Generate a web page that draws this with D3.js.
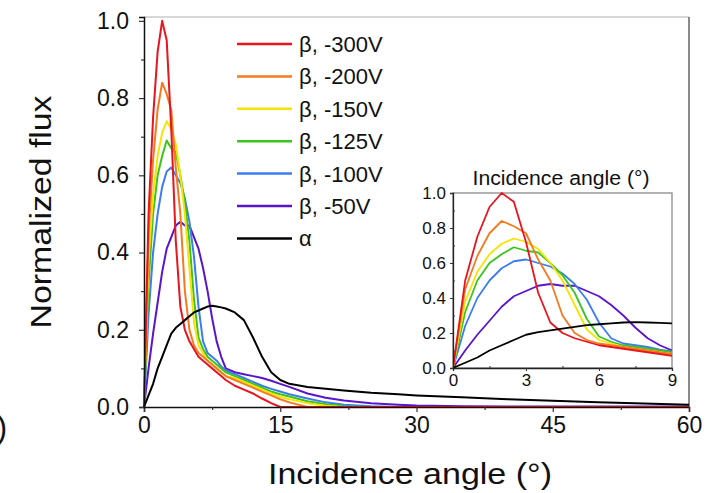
<!DOCTYPE html>
<html>
<head>
<meta charset="utf-8">
<script src="https://cdn.jsdelivr.net/npm/d3@7"></script>
<style>
  body { margin: 0; background: #fff; }
  svg { font-family: "Liberation Sans", Arial, sans-serif; }
</style>
</head>
<body>
<svg id="chart" width="725" height="493"></svg>
<script>
// angles in degrees, shared by every series
const angles = [0, 0.5, 1, 1.5, 2, 2.5, 3, 3.5, 4, 4.5, 5, 5.5, 6, 6.5, 7, 7.5, 8, 8.5, 9,
  10, 11, 12, 13, 14, 15, 16, 18, 20, 22, 25, 28, 30, 35, 40, 45, 50, 55, 60];

const beta300 = [0, 0.5, 0.75, 0.92, 1.0, 0.95, 0.72, 0.43, 0.26, 0.2, 0.17, 0.15, 0.13, 0.12, 0.11, 0.1, 0.09, 0.08, 0.07,
  0.055, 0.045, 0.035, 0.022, 0.01, 0, 0, 0, 0, 0, 0, 0, 0, 0, 0, 0, 0, 0, 0];
const beta200 = [0, 0.45, 0.64, 0.77, 0.84, 0.81, 0.77, 0.62, 0.5, 0.3, 0.2, 0.16, 0.14, 0.13, 0.12, 0.11, 0.1, 0.09, 0.08,
  0.07, 0.06, 0.05, 0.04, 0.03, 0.02, 0.012, 0, 0, 0, 0, 0, 0, 0, 0, 0, 0, 0, 0];
const beta150 = [0, 0.38, 0.55, 0.65, 0.71, 0.74, 0.72, 0.68, 0.6, 0.5, 0.36, 0.22, 0.16, 0.14, 0.12, 0.11, 0.1, 0.09, 0.08,
  0.075, 0.065, 0.055, 0.045, 0.035, 0.027, 0.02, 0.01, 0.003, 0, 0, 0, 0, 0, 0, 0, 0, 0, 0];
const beta125 = [0, 0.32, 0.5, 0.6, 0.65, 0.69, 0.67, 0.66, 0.6, 0.53, 0.43, 0.28, 0.18, 0.15, 0.13, 0.12, 0.11, 0.1, 0.09,
  0.08, 0.07, 0.06, 0.05, 0.04, 0.033, 0.027, 0.015, 0.007, 0.002, 0, 0, 0, 0, 0, 0, 0, 0, 0];
const beta100 = [0, 0.24, 0.4, 0.5, 0.57, 0.61, 0.62, 0.6, 0.58, 0.54, 0.48, 0.39, 0.26, 0.17, 0.14, 0.13, 0.12, 0.105, 0.095,
  0.085, 0.075, 0.065, 0.055, 0.047, 0.04, 0.033, 0.022, 0.012, 0.006, 0.002, 0, 0, 0, 0, 0, 0, 0, 0];
const beta50 = [0, 0.1, 0.19, 0.27, 0.35, 0.41, 0.44, 0.47, 0.48, 0.47, 0.47, 0.44, 0.41, 0.36, 0.3, 0.23, 0.17, 0.13, 0.1,
  0.09, 0.085, 0.08, 0.075, 0.068, 0.06, 0.052, 0.035, 0.024, 0.017, 0.01, 0.006, 0.004, 0.002, 0.001, 0.001, 0.001, 0.001, 0.001];
const alpha = [0, 0.03, 0.06, 0.1, 0.13, 0.16, 0.19, 0.205, 0.215, 0.225, 0.235, 0.245, 0.25, 0.255, 0.26, 0.262, 0.26, 0.258, 0.255,
  0.245, 0.225, 0.18, 0.13, 0.09, 0.07, 0.06, 0.052, 0.047, 0.043, 0.037, 0.033, 0.03, 0.025, 0.02, 0.016, 0.012, 0.009, 0.006];

const labels = ["β, -300V", "β, -200V", "β, -150V", "β, -125V", "β, -100V", "β, -50V", "α"];
const colors = ["#e8141e", "#f57a1e", "#f5e400", "#3cc41e", "#3c7cf2", "#5a14cc", "#000000"];
const seriesValues = [beta300, beta200, beta150, beta125, beta100, beta50, alpha];

const mainXTicks = [0, 15, 30, 45, 60];
const mainYTicks = [0, 0.2, 0.4, 0.6, 0.8, 1.0];
const insetXTicks = [0, 3, 6, 9];
const insetYTicks = [0, 0.2, 0.4, 0.6, 0.8, 1.0];

const series = labels.map((label, i) => ({
  label,
  color: colors[i],
  points: angles.map((a, j) => [a, seriesValues[i][j]])
}));

const svg = d3.select("#chart");

// ---- main panel ----
const x = d3.scaleLinear().domain([0, 60]).range([144, 689]);
const y = d3.scaleLinear().domain([0, 1.01]).range([407, 17]);

// top / right frame
svg.append("line").attr("x1", 144).attr("x2", 689).attr("y1", 17).attr("y2", 17)
  .attr("stroke", "#b0b0b0").attr("stroke-width", 1.2);
svg.append("line").attr("x1", 689).attr("x2", 689).attr("y1", 17).attr("y2", 407)
  .attr("stroke", "#8a8a8a").attr("stroke-width", 2);

const line = d3.line().x(d => x(d[0])).y(d => y(d[1]));
// draw bottom-to-top: purple first, black last
const order = [5, 4, 3, 2, 1, 0, 6];
svg.append("g")
  .selectAll("path")
  .data(order.map(i => series[i]))
  .join("path")
  .attr("d", d => line(d.points))
  .attr("fill", "none")
  .attr("stroke", d => d.color)
  .attr("stroke-width", 2)
  .attr("stroke-linejoin", "round");

const xAxis = svg.append("g")
  .attr("transform", "translate(0,407)")
  .call(d3.axisBottom(x).tickValues(mainXTicks).tickFormat(d3.format("d")).tickSize(5).tickPadding(5));
svg.append("g")
  .attr("transform", "translate(0,407)")
  .call(d3.axisBottom(x).tickValues([7.5, 22.5, 37.5, 52.5]).tickFormat("").tickSize(3))
  .call(g => g.select(".domain").remove());

const yAxis = svg.append("g")
  .attr("transform", "translate(144,0)")
  .call(d3.axisLeft(y).tickValues(mainYTicks).tickFormat(d3.format(".1f")).tickSize(5).tickPadding(10));
svg.append("g")
  .attr("transform", "translate(144,0)")
  .call(d3.axisLeft(y).tickValues([0.1, 0.3, 0.5, 0.7, 0.9]).tickFormat("").tickSize(3))
  .call(g => g.select(".domain").remove());

[xAxis, yAxis].forEach(g => {
  g.select(".domain").attr("stroke", "#111").attr("stroke-width", 1.5);
  g.selectAll("text").attr("font-size", 23).attr("fill", "#111");
});
svg.selectAll(".tick line").attr("stroke", "#222").attr("stroke-width", 1.2);

svg.append("text")
  .attr("x", 410).attr("y", 484)
  .attr("text-anchor", "middle")
  .attr("font-size", 29).attr("fill", "#111")
  .attr("textLength", 284).attr("lengthAdjust", "spacingAndGlyphs")
  .text("Incidence angle (°)");

svg.append("text")
  .attr("transform", "translate(51,212) rotate(-90)")
  .attr("text-anchor", "middle")
  .attr("font-size", 30).attr("fill", "#111")
  .attr("textLength", 233).attr("lengthAdjust", "spacingAndGlyphs")
  .text("Normalized flux");

// panel label cut off at the left edge
svg.append("text")
  .attr("x", 7).attr("y", 438)
  .attr("text-anchor", "end")
  .attr("font-size", 31).attr("fill", "#111")
  .text("(a)");

// ---- legend ----
const legend = svg.append("g").attr("transform", "translate(237,44)");
const rows = legend.selectAll("g").data(series).join("g")
  .attr("transform", (d, i) => `translate(0,${i * 32.4})`);
rows.append("line").attr("x1", 0).attr("x2", 55).attr("y1", 0).attr("y2", 0)
  .attr("stroke", d => d.color).attr("stroke-width", 2.5);
rows.append("text").attr("x", 62).attr("y", 8)
  .attr("font-size", 22).attr("fill", "#111")
  .text(d => d.label);

// ---- inset ----
const xi = d3.scaleLinear().domain([0, 9]).range([453, 672]);
const yi = d3.scaleLinear().domain([0, 1]).range([368, 193]);

svg.append("rect").attr("x", 453).attr("y", 193).attr("width", 219).attr("height", 175)
  .attr("fill", "#fff").attr("stroke", "#8a8a8a").attr("stroke-width", 1.3);

svg.append("clipPath").attr("id", "insetClip")
  .append("rect").attr("x", 453).attr("y", 192).attr("width", 219).attr("height", 177);

const lineI = d3.line().x(d => xi(d[0])).y(d => yi(d[1]));
svg.append("g").attr("clip-path", "url(#insetClip)")
  .selectAll("path")
  .data(order.map(i => series[i]))
  .join("path")
  .attr("d", d => lineI(d.points))
  .attr("fill", "none")
  .attr("stroke", d => d.color)
  .attr("stroke-width", 1.8)
  .attr("stroke-linejoin", "round");

const xiAxis = svg.append("g")
  .attr("transform", "translate(0,368)")
  .call(d3.axisBottom(xi).tickValues(insetXTicks).tickFormat(d3.format("d")).tickSize(3).tickPadding(3));
svg.append("g")
  .attr("transform", "translate(0,368)")
  .call(d3.axisTop(xi).tickValues([1.5, 4.5, 7.5]).tickFormat("").tickSize(2))
  .call(g => g.select(".domain").remove());
const yiAxis = svg.append("g")
  .attr("transform", "translate(453,0)")
  .call(d3.axisLeft(yi).tickValues(insetYTicks).tickFormat(d3.format(".1f")).tickSize(3).tickPadding(4));
svg.append("g")
  .attr("transform", "translate(453,0)")
  .call(d3.axisRight(yi).tickValues([0.1, 0.3, 0.5, 0.7, 0.9]).tickFormat("").tickSize(2))
  .call(g => g.select(".domain").remove());

[xiAxis, yiAxis].forEach(g => {
  g.select(".domain").attr("stroke", "#222").attr("stroke-width", 1.3);
  g.selectAll("text").attr("font-size", 17).attr("fill", "#111");
});
svg.selectAll(".tick line").attr("stroke", "#333");

svg.append("text")
  .attr("x", 561).attr("y", 185)
  .attr("text-anchor", "middle")
  .attr("font-size", 20).attr("fill", "#111")
  .attr("textLength", 177).attr("lengthAdjust", "spacingAndGlyphs")
  .text("Incidence angle (°)");
</script>
</body>
</html>
